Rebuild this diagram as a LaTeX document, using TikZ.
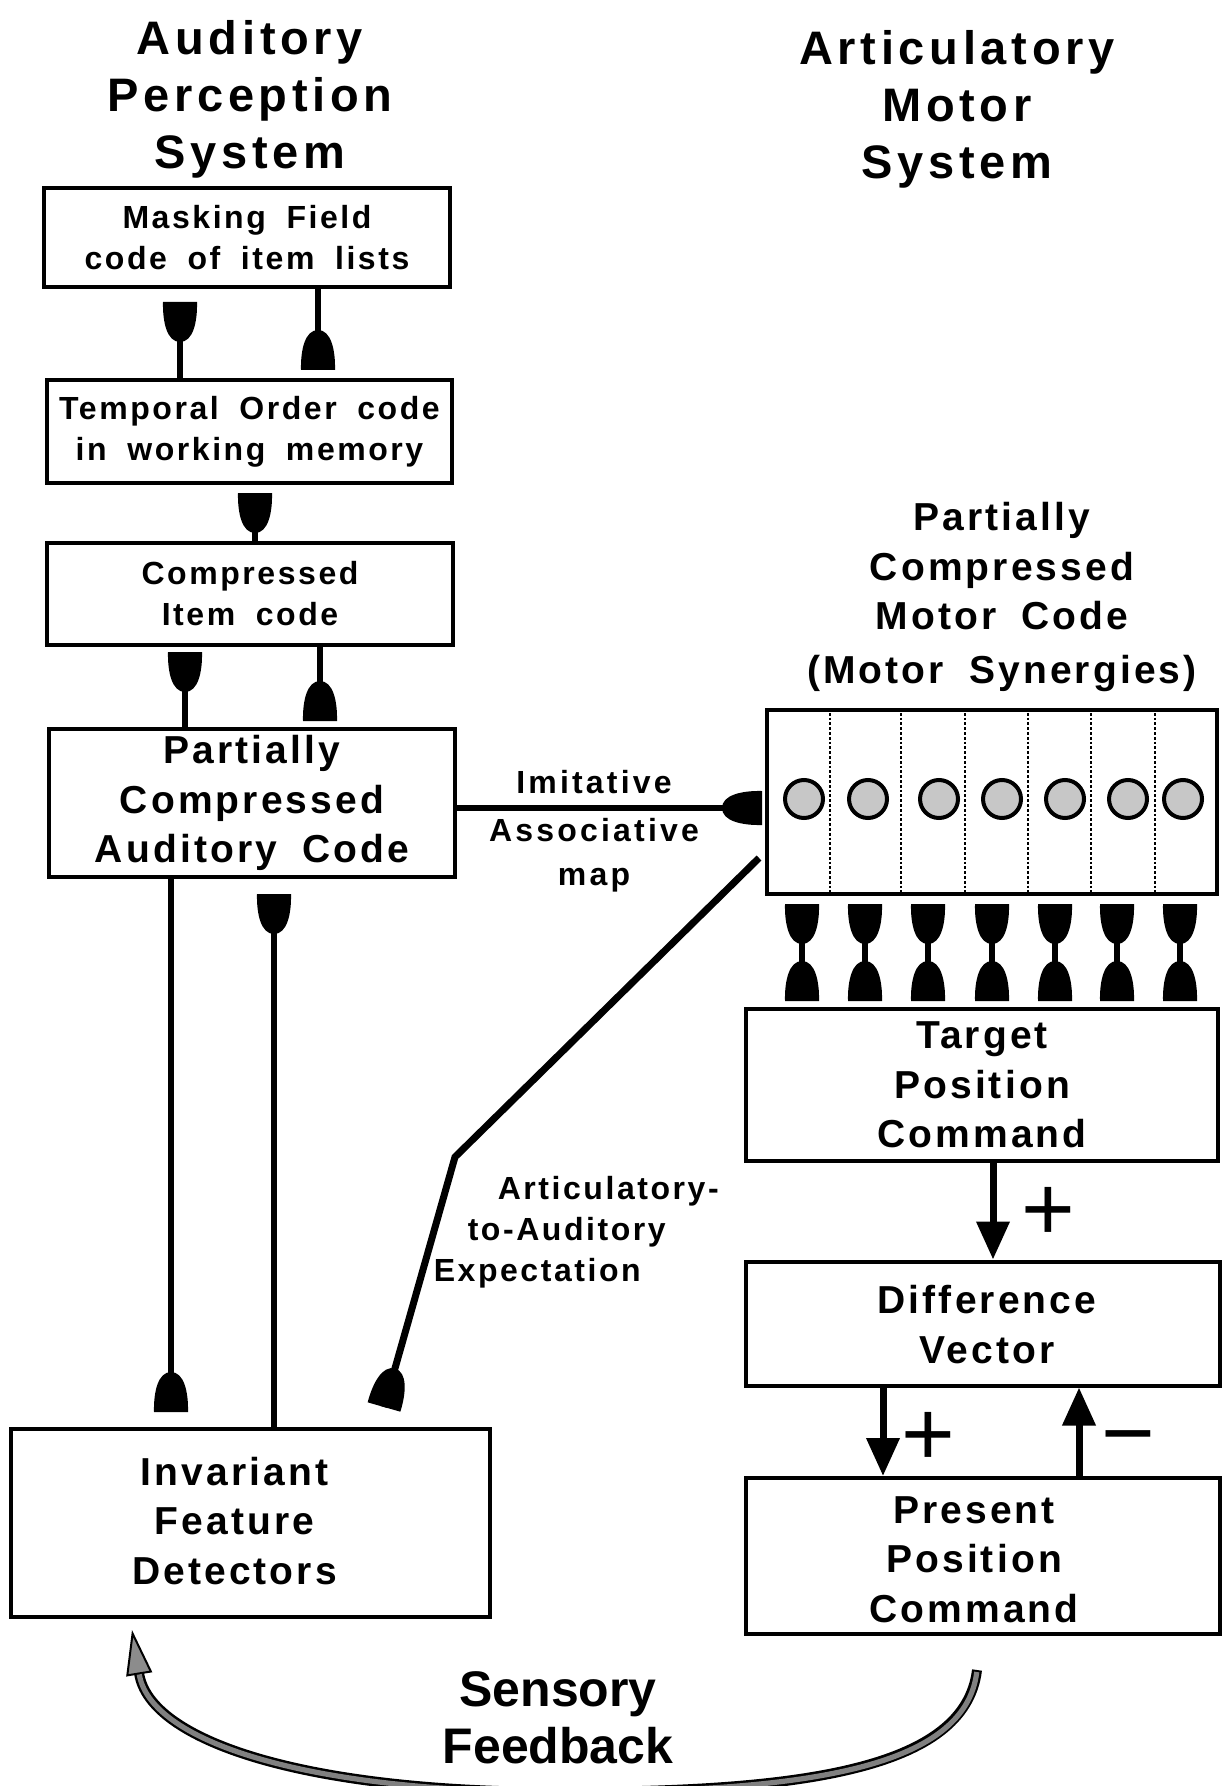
\documentclass[tikz,border=0pt]{standalone}
\usepackage{fontspec}
\setmainfont{Liberation Sans}[LetterSpace=8,WordSpace=1.8]
\usetikzlibrary{arrows.meta}

\tikzset{every picture/.style={line width=0.75pt}}
\tikzset{
	knob/.pic={\fill (-17,0) -- (17,0) .. controls (17.5,20) and (13,40) .. (0,40) .. controls (-13,40) and (-17.5,20) .. (-17,0) -- cycle ;},
	box/.style={draw, line width=2pt, inner sep=0pt, align=center},
	smalltext/.style={font=\bfseries\fontsize{16}{20.5}\selectfont},
	bigtext/.style={font=\bfseries\fontsize{19.5}{24.75}\selectfont},
	title/.style={font=\bfseries\addfontfeature{LetterSpace=10}\fontsize{23.5}{28.5}\selectfont, align=center, inner sep=0pt},
	stem/.style={line width=3pt},
	signal/.style={line width=3.5pt, -{Triangle[length=19pt,width=16pt]}},
	sign/.style={font=\fontsize{46}{46}\selectfont, inner sep=0pt},
	cell/.style={circle, draw, line width=2pt, fill=black!22, minimum size=19pt, inner sep=0pt},
	divider/.style={densely dotted, line width=1.4pt},
}

\begin{document}
\begin{tikzpicture}[x=0.5pt,y=0.5pt,yscale=-1,xscale=1]
	\useasboundingbox (0,0) rectangle (1223,1786);
	
	% Text Node
	\node (audtitle) at (250,99) [title] {Auditory\\Perception\\System};
	% Text Node
	\node (arttitle) at (957,109) [title] {Articulatory\\Motor\\System};
	
	%Shape: Rectangle
	\node (mask) at (247,237.5) [box, smalltext, minimum width=203pt, minimum height=49.5pt] {Masking Field\\code of item lists};
	%Shape: Rectangle
	\node (order) at (249.5,431.5) [box, smalltext, minimum width=202.5pt, minimum height=51.5pt] {Temporal Order code\\in working memory};
	%Shape: Rectangle
	\node (item) at (250,594) [box, smalltext, minimum width=203pt, minimum height=51pt] {Compressed\\Item code};
	%Shape: Rectangle
	\node (pcac) at (252,803) [box, bigtext, minimum width=203pt, minimum height=74pt] {Partially\\Compressed\\Auditory Code};
	%Shape: Rectangle
	\node (ifd) at (250.5,1523) [box, bigtext, minimum width=239.5pt, minimum height=94pt] {\raisebox{-1pt}[\height][\depth]{\begin{tabular}{@{}c@{}}Invariant\\Feature\\Detectors\end{tabular}}\hspace*{16pt}};
	
	%Shape: Rectangle
	\node (motor) at (992,802) [box, minimum width=225pt, minimum height=92pt] {};
	%Shape: Rectangle
	\node (tpc) at (982,1085) [box, bigtext, minimum width=236pt, minimum height=76pt] {Target\\Position\\Command};
	%Shape: Rectangle
	\node (dv) at (983,1323.5) [box, bigtext, minimum width=237pt, minimum height=62pt] {\hspace*{4pt}\raisebox{-2.5pt}[\height][\depth]{\begin{tabular}{@{}c@{}}Difference\\Vector\end{tabular}}};
	%Shape: Rectangle
	\node (ppc) at (983,1556) [box, bigtext, minimum width=237pt, minimum height=78pt] {\raisebox{-3.5pt}[\height][\depth]{\begin{tabular}{@{}c@{}}Present\\Position\\Command\end{tabular}}\hspace*{9pt}};
	
	% Text Node
	\node (motorlabel) at (1002,597) [bigtext, align=center, inner sep=0pt] {Partially\\Compressed\\Motor Code\\[2pt](Motor Synergies)};
	% Text Node
	\node (imitlabel) at (594,831) [font=\bfseries\addfontfeature{LetterSpace=10}\fontsize{16}{22}\selectfont, align=center, inner sep=0pt] {Imitative\\[2pt]Associative\\map};
	% Text Node
	\node (explabel) at (433,1232) [smalltext, anchor=west, align=left, inner sep=0pt] {\hspace*{32pt}Articulatory-\\\hspace*{17pt}to-Auditory\\Expectation};
	% Text Node
	\node (fblabel) at (558,1718) [font=\bfseries\addfontfeature{LetterSpace=0}\fontsize{25}{28.5}\selectfont, align=center, inner sep=0pt] {Sensory\\Feedback};
	
	%Shape: Circle
	\node (c1) at (804,799) [cell] {};
	\node (c2) at (868,799) [cell] {};
	\node (c3) at (939,799) [cell] {};
	\node (c4) at (1002,799) [cell] {};
	\node (c5) at (1065,799) [cell] {};
	\node (c6) at (1128,799) [cell] {};
	\node (c7) at (1183,799) [cell] {};
	%Dotted Lines
	\draw [divider] ([shift={(65,0)}]motor.north west) -- ([shift={(65,0)}]motor.south west) ;
	\draw [divider] ([shift={(136,0)}]motor.north west) -- ([shift={(136,0)}]motor.south west) ;
	\draw [divider] ([shift={(200,0)}]motor.north west) -- ([shift={(200,0)}]motor.south west) ;
	\draw [divider] ([shift={(263,0)}]motor.north west) -- ([shift={(263,0)}]motor.south west) ;
	\draw [divider] ([shift={(326,0)}]motor.north west) -- ([shift={(326,0)}]motor.south west) ;
	\draw [divider] ([shift={(390,0)}]motor.north west) -- ([shift={(390,0)}]motor.south west) ;
	
	%Straight Lines: order -> mask
	\coordinate (k1) at (180,302);
	\draw [stem] (order.north -| k1) -- (k1) ;
	\pic [rotate=180] at (k1) {knob};
	%Straight Lines: mask -> order
	\coordinate (k2) at (318,370);
	\draw [stem] (mask.south -| k2) -- (k2) ;
	\pic at (k2) {knob};
	%Straight Lines: order -> item
	\coordinate (k3) at (255,493);
	\draw [stem] (item.north -| k3) -- (k3) ;
	\pic [rotate=180] at (k3) {knob};
	%Straight Lines: item -> pcac
	\coordinate (k4) at (185,652);
	\draw [stem] (pcac.north -| k4) -- (k4) ;
	\pic [rotate=180] at (k4) {knob};
	%Straight Lines: item -> pcac
	\coordinate (k5) at (320,721);
	\draw [stem] (item.south -| k5) -- (k5) ;
	\pic at (k5) {knob};
	%Straight Lines: pcac -> ifd
	\coordinate (k6) at (171,1412);
	\draw [stem] (pcac.south -| k6) -- (k6) ;
	\pic at (k6) {knob};
	%Straight Lines: ifd -> pcac
	\coordinate (k7) at (274,894);
	\draw [stem] (ifd.north -| k7) -- (k7) ;
	\pic [rotate=180] at (k7) {knob};
	%Straight Lines: pcac -> motor
	\coordinate (k8) at (762,808);
	\draw [stem] (pcac.east |- k8) -- (k8) ;
	\pic [rotate=90] at (k8) {knob};
	%Straight Lines: motor -> ifd
	\coordinate (bend) at (455,1157);
	\coordinate (k9) at (384,1407);
	\draw [line width=3.5pt] ([shift={(-6,-38)}]motor.south west) -- (bend) -- (k9) ;
	\pic [rotate=-16] at (k9) {knob};
	
	%Straight Lines: motor <-> tpc
	\draw [stem] ([shift={(-190,8)}]motor.south) coordinate (s1) -- ([shift={(-180,-6)}]tpc.north) coordinate (t1) ;
	\pic [rotate=180] at (s1) {knob}; \pic at (t1) {knob};
	\draw [stem] ([shift={(-127,8)}]motor.south) coordinate (s2) -- ([shift={(-117,-6)}]tpc.north) coordinate (t2) ;
	\pic [rotate=180] at (s2) {knob}; \pic at (t2) {knob};
	\draw [stem] ([shift={(-64,8)}]motor.south) coordinate (s3) -- ([shift={(-54,-6)}]tpc.north) coordinate (t3) ;
	\pic [rotate=180] at (s3) {knob}; \pic at (t3) {knob};
	\draw [stem] ([shift={(0,8)}]motor.south) coordinate (s4) -- ([shift={(10,-6)}]tpc.north) coordinate (t4) ;
	\pic [rotate=180] at (s4) {knob}; \pic at (t4) {knob};
	\draw [stem] ([shift={(63,8)}]motor.south) coordinate (s5) -- ([shift={(73,-6)}]tpc.north) coordinate (t5) ;
	\pic [rotate=180] at (s5) {knob}; \pic at (t5) {knob};
	\draw [stem] ([shift={(125,8)}]motor.south) coordinate (s6) -- ([shift={(135,-6)}]tpc.north) coordinate (t6) ;
	\pic [rotate=180] at (s6) {knob}; \pic at (t6) {knob};
	\draw [stem] ([shift={(188,8)}]motor.south) coordinate (s7) -- ([shift={(198,-6)}]tpc.north) coordinate (t7) ;
	\pic [rotate=180] at (s7) {knob}; \pic at (t7) {knob};
	
	%Straight Lines: tpc -> dv -> ppc, ppc -> dv
	\coordinate (a1) at (993,0);
	\draw [signal] (tpc.south -| a1) -- (dv.north -| a1) ;
	\coordinate (a2) at (883,0);
	\draw [signal] (dv.south -| a2) -- (ppc.north -| a2) ;
	\coordinate (a3) at (1079,0);
	\draw [signal] (ppc.north -| a3) -- (dv.south -| a3) ;
	% Text Node
	\node (plus1) at (1048,1214) [sign] {+};
	\node (plus2) at (928,1439) [sign] {+};
	\node (minus) at (1128,1448) [sign] {−};
	
	%Curve Lines: ppc -> ifd
	\draw [line width=5pt, -{Triangle[length=22.5pt,width=13pt,line width=1pt,fill=black!45]}] ([shift={(-6,34)}]ppc.south) .. controls (965,1770) and (800,1792) .. (560,1792) .. controls (300,1792) and (150,1740) .. ([shift={(123,11)}]ifd.south west) ;
	\draw [line width=2.6pt, black!50, shorten <=1pt, shorten >=22.5pt] ([shift={(-6,34)}]ppc.south) .. controls (965,1770) and (800,1792) .. (560,1792) .. controls (300,1792) and (150,1740) .. ([shift={(123,11)}]ifd.south west) ;
	
\end{tikzpicture}
\end{document}
